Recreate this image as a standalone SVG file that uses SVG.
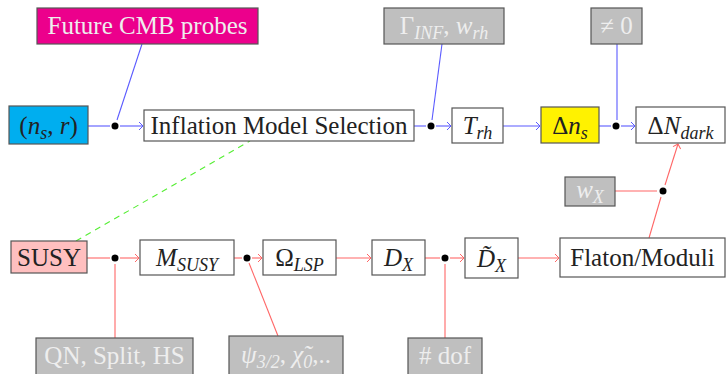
<svg xmlns="http://www.w3.org/2000/svg" width="726" height="374" viewBox="0 0 726 374" font-family="'Liberation Serif', 'DejaVu Serif', serif">
<defs>
<marker id="ab" viewBox="-5 -5 6 10" markerWidth="6" markerHeight="10" refX="0" refY="0" orient="auto" markerUnits="userSpaceOnUse">
<path d="M-4,-4 L0,0 L-4,4" fill="none" stroke="#5a5aff" stroke-width="1"/>
</marker>
<marker id="ar" viewBox="-5 -5 6 10" markerWidth="6" markerHeight="10" refX="0" refY="0" orient="auto" markerUnits="userSpaceOnUse">
<path d="M-4,-4 L0,0 L-4,4" fill="none" stroke="#ff6666" stroke-width="1"/>
</marker>
</defs>
<style>
.box{stroke:#555;stroke-width:1.2}
.w{fill:#fff}
.g{fill:#bfbfbf}
text{font-family:'Liberation Serif','DejaVu Serif',serif}
.t{font-size:25px;text-anchor:middle;fill:#222}
.lt{fill:#eeeeee}
.i{font-style:italic}
.s{font-size:18px;font-style:italic}
.bl{stroke:#5a5aff;stroke-width:1.1;fill:none}
.rd{stroke:#ff6666;stroke-width:1.1;fill:none}
.dot{fill:#000}
</style>
<g id="connectors">
<line class="bl" x1="88" y1="126" x2="110" y2="126"/>
<line class="bl" x1="120" y1="126" x2="143" y2="126" marker-end="url(#ab)"/>
<line class="bl" x1="142" y1="44" x2="117" y2="120"/>
<line class="bl" x1="414" y1="126" x2="426" y2="126"/>
<line class="bl" x1="436" y1="126" x2="451" y2="126" marker-end="url(#ab)"/>
<line class="bl" x1="442" y1="44" x2="432" y2="120"/>
<line class="bl" x1="503" y1="126" x2="540" y2="126" marker-end="url(#ab)"/>
<line class="bl" x1="599" y1="126" x2="611" y2="126"/>
<line class="bl" x1="621" y1="126" x2="635" y2="126" marker-end="url(#ab)"/>
<line class="bl" x1="617" y1="44" x2="617" y2="120"/>
<line class="rd" x1="87" y1="258" x2="110" y2="258"/>
<line class="rd" x1="120" y1="258" x2="139" y2="258" marker-end="url(#ar)"/>
<line class="rd" x1="115" y1="264" x2="115" y2="338"/>
<line class="rd" x1="234" y1="258" x2="242" y2="258"/>
<line class="rd" x1="252" y1="258" x2="262" y2="258" marker-end="url(#ar)"/>
<line class="rd" x1="249" y1="263" x2="278" y2="336"/>
<line class="rd" x1="336" y1="258" x2="371" y2="258" marker-end="url(#ar)"/>
<line class="rd" x1="425" y1="258" x2="440" y2="258"/>
<line class="rd" x1="450" y1="258" x2="464" y2="258" marker-end="url(#ar)"/>
<line class="rd" x1="445" y1="264" x2="445" y2="338"/>
<line class="rd" x1="518" y1="258" x2="559" y2="258" marker-end="url(#ar)"/>
<line class="rd" x1="649" y1="238" x2="661" y2="197"/>
<line class="rd" x1="665" y1="185" x2="678" y2="144" marker-end="url(#ar)"/>
<line class="rd" x1="615" y1="191" x2="657" y2="191"/>
<line x1="76" y1="241" x2="250" y2="141" stroke="#55ee33" stroke-width="1.1" stroke-dasharray="6,5"/>
<circle class="dot" cx="115" cy="126" r="3.5"/>
<circle class="dot" cx="431" cy="126" r="3.5"/>
<circle class="dot" cx="616" cy="126" r="3.5"/>
<circle class="dot" cx="115" cy="258" r="3.5"/>
<circle class="dot" cx="247" cy="258" r="3.5"/>
<circle class="dot" cx="445" cy="258" r="3.5"/>
<circle class="dot" cx="663" cy="191" r="3.5"/>
</g>
<g id="cmb"><rect class="box" x="37" y="8" width="221" height="36" fill="#ec008c"/><text class="t lt" x="147.5" y="34">Future CMB probes</text></g>
<g id="nsr"><rect class="box" x="9" y="106" width="79" height="38" fill="#00aeef"/><text class="t" x="48.5" y="134">(<tspan class="i">n</tspan><tspan class="s" dy="5">s</tspan><tspan dy="-5">, </tspan><tspan class="i">r</tspan>)</text></g>
<g id="ims"><rect class="box w" x="144" y="110" width="270" height="31"/><text class="t" x="279" y="134">Inflation Model Selection</text></g>
<g id="gamma"><rect class="box g" x="384" y="8" width="120" height="36"/><text class="t lt" x="444" y="34">Γ<tspan class="s" dy="5">INF</tspan><tspan dy="-5">, </tspan><tspan class="i">w</tspan><tspan class="s" dy="5">rh</tspan></text></g>
<g id="trh"><rect class="box w" x="452" y="108" width="51" height="35"/><text class="t" x="477.5" y="134"><tspan class="i">T</tspan><tspan class="s" dy="5">rh</tspan></text></g>
<g id="dns"><rect class="box" x="541" y="107" width="58" height="36" fill="#fff200"/><text class="t" x="570" y="134">Δ<tspan class="i">n</tspan><tspan class="s" dy="5">s</tspan></text></g>
<g id="neq"><rect class="box g" x="591" y="8" width="51" height="36"/><text class="t lt" x="616.5" y="34">≠ 0</text></g>
<g id="dnd"><rect class="box w" x="636" y="107" width="89" height="36"/><text class="t" x="680.5" y="134">Δ<tspan class="i">N</tspan><tspan class="s" dy="5">dark</tspan></text></g>
<g id="susy"><rect class="box" x="11" y="241" width="76" height="32" fill="#ffbfbf"/><text class="t" x="49" y="266">SUSY</text></g>
<g id="msusy"><rect class="box w" x="140" y="240" width="94" height="35"/><text class="t" x="187" y="266"><tspan class="i">M</tspan><tspan class="s" dy="5">SUSY</tspan></text></g>
<g id="olsp"><rect class="box w" x="263" y="240" width="73" height="35"/><text class="t" x="299.5" y="266">Ω<tspan class="s" dy="5">LSP</tspan></text></g>
<g id="dx"><rect class="box w" x="372" y="240" width="53" height="35"/><text class="t" x="398.5" y="266"><tspan class="i">D</tspan><tspan class="s" dy="5">X</tspan></text></g>
<g id="dtx"><rect class="box w" x="465" y="238" width="53" height="40"/><text class="t" x="491.5" y="267"><tspan class="i">D̃</tspan><tspan class="s" dy="5">X</tspan></text></g>
<g id="flaton"><rect class="box w" x="560" y="238" width="165" height="39"/><text class="t" x="642.5" y="266">Flaton/Moduli</text></g>
<g id="wx"><rect class="box g" x="565" y="177" width="50" height="29"/><text class="t lt" x="590" y="198"><tspan class="i">w</tspan><tspan class="s" dy="5">X</tspan></text></g>
<g id="qn"><rect class="box g" x="36" y="338" width="157" height="40"/><text class="t lt" x="114.5" y="364">QN, Split, HS</text></g>
<g id="psi"><rect class="box g" x="229" y="336" width="114" height="40"/><text class="t lt" x="286" y="363"><tspan class="i">ψ</tspan><tspan class="s" dy="5" font-style="normal">3/2</tspan><tspan dy="-5">, </tspan><tspan class="i">χ̃</tspan><tspan class="s" dy="5" font-style="normal">0</tspan><tspan dy="-5">,..</tspan></text></g>
<g id="dof"><rect class="box g" x="408" y="338" width="74" height="40"/><text class="t lt" x="445" y="364"># dof</text></g>
</svg>
